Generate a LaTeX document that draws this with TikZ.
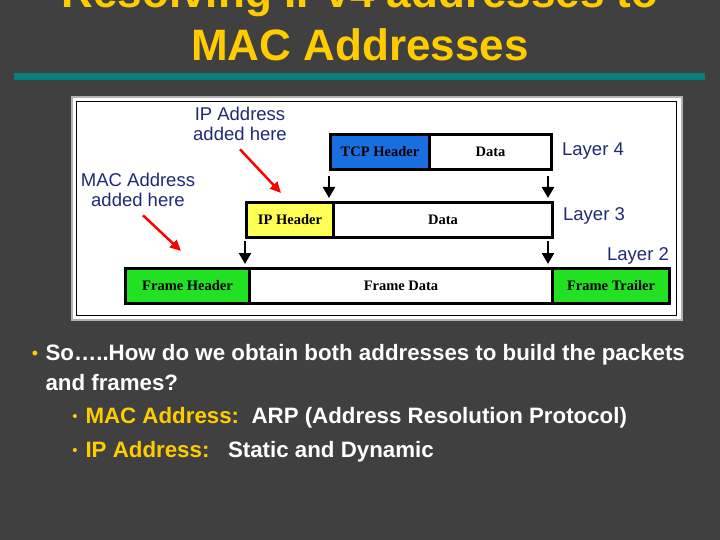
\documentclass[tikz,border=0pt]{standalone}
\usepackage{fontspec}
\setmainfont{Liberation Sans}
\newfontfamily\serifb{Liberation Serif}
\usetikzlibrary{arrows.meta}
\definecolor{bg}{HTML}{404040}
\definecolor{ttl}{HTML}{FFCC00}
\definecolor{teal}{HTML}{0A7D7D}
\definecolor{navy}{HTML}{1E2A78}
\definecolor{tcpb}{HTML}{1A6FE0}
\definecolor{ipy}{HTML}{FFFF55}
\definecolor{grn}{HTML}{22E022}
\tikzset{x=1pt,y=-1pt,
 seg/.style={draw=black,line width=3pt,minimum height=35pt,inner sep=0pt,font=\serifb\bfseries\fontsize{14.5}{14.5}\selectfont,anchor=north west},
 lbl/.style={text=navy,font=\fontsize{18.5}{20}\selectfont,align=center},
 darr/.style={-{Triangle[width=12pt,length=11pt]},line width=2.5pt},
 rarr/.style={-{Triangle[width=10pt,length=11pt]},draw=red,line width=2.5pt},
 body/.style={text=white,font=\bfseries\fontsize{22.3}{24}\selectfont,anchor=west}}
\begin{document}
\begin{tikzpicture}
\fill[bg] (0,0) rectangle (720,540);
\useasboundingbox (0,0) rectangle (720,540);
\node[text=ttl,font=\bfseries\fontsize{44}{48}\selectfont] (t1) at (360,-4) {Resolving IPv4 addresses to};
\node[text=ttl,font=\bfseries\fontsize{44}{48}\selectfont] (t2) at (360,45) {MAC Addresses};
\fill[teal] (14,73) rectangle (705,80);
\node[fill=white,draw=gray!60,line width=2pt,minimum width=610pt,minimum height=223pt,anchor=north west] (panel) at (71,96) {};
\draw[line width=0.8pt] (76,101) rectangle (676,315);
% layer 4
\node[seg,fill=tcpb,minimum width=99pt] (tcph) at (329,133) {TCP Header};
\node[seg,fill=white,minimum width=122pt] (d4) at (428,133) {Data};
% layer 3
\node[seg,fill=ipy,minimum width=87pt] (iph) at (245,201) {IP Header};
\node[seg,fill=white,minimum width=219pt] (d3) at (332,201) {Data};
% layer 2
\node[seg,fill=grn,minimum width=124pt] (fh) at (124,267) {Frame Header};
\node[seg,fill=white,minimum width=303pt] (fd) at (248,267) {Frame Data};
\node[seg,fill=grn,minimum width=117pt] (ft) at (551,267) {Frame Trailer};
\node[lbl] (l4) at (593,151) {Layer 4};
\node[lbl] (l3) at (594,216) {Layer 3};
\node[lbl] (l2) at (638,256) {Layer 2};
\node[lbl] (ipa) at (240,124) {IP Address\\added here};
\node[lbl] (maca) at (138,190) {MAC Address\\added here};
\coordinate (a1s) at (329,176); \coordinate (a1e) at (329,198);
\coordinate (a2s) at (548,176); \coordinate (a2e) at (548,198);
\coordinate (a3s) at (245,241); \coordinate (a3e) at (245,264);
\coordinate (a4s) at (548,241); \coordinate (a4e) at (548,264);
\draw[darr] (a1s) -- (a1e);
\draw[darr] (a2s) -- (a2e);
\draw[darr] (a3s) -- (a3e);
\draw[darr] (a4s) -- (a4e);
\coordinate (r1e) at (281,193); \coordinate (r2e) at (181,251);
\draw[rarr] (ipa.south) ++(0,5) -- (r1e);
\draw[rarr] (maca.south) ++(5,5) -- (r2e);
% bullets
\node[text=ttl,font=\fontsize{18}{18}\selectfont] (b0) at (35,355) {•};
\node[body] (b1) at (42,355) {So…..How do we obtain both addresses to build the packets};
\node[body] (b2) at (42,383) {and frames?};
\node[text=ttl,font=\fontsize{15}{15}\selectfont] (s0) at (75,418) {•};
\node[body] (s1) at (82,418) {\textcolor{ttl}{MAC Address:}\ \ ARP (Address Resolution Protocol)};
\node[text=ttl,font=\fontsize{15}{15}\selectfont] (s2) at (75,452) {•};
\node[body] (s3) at (82,452) {\textcolor{ttl}{IP Address:}\ \ \ Static and Dynamic};
\end{tikzpicture}
\end{document}
